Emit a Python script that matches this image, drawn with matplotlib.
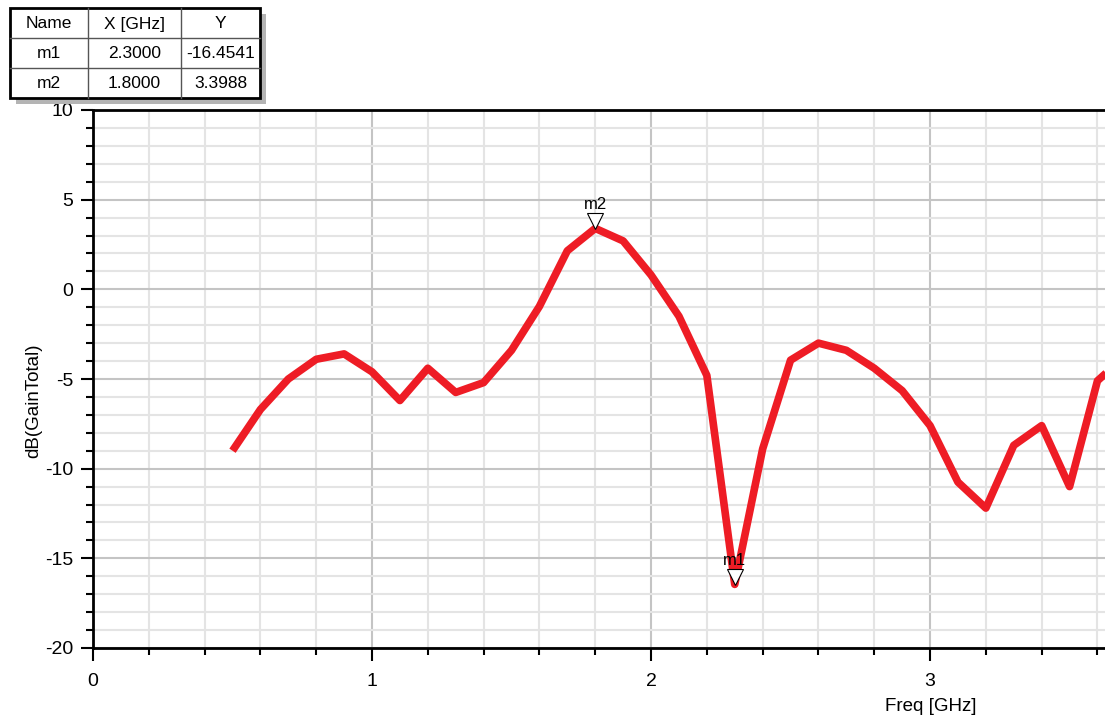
import matplotlib
matplotlib.use("Agg")
import matplotlib.pyplot as plt
from matplotlib.patches import Rectangle
from matplotlib.ticker import MultipleLocator
from matplotlib.transforms import offset_copy

plt.rcParams["font.family"] = ["Liberation Sans", "DejaVu Sans"]
plt.rcParams["axes.unicode_minus"] = False

freq_ghz = [0.5, 0.6, 0.7, 0.8, 0.9, 1.0, 1.1, 1.2, 1.3, 1.4, 1.5, 1.6, 1.7, 1.8,
            1.9, 2.0, 2.1, 2.2, 2.3, 2.4, 2.5, 2.6, 2.7, 2.8, 2.9, 3.0, 3.1, 3.2,
            3.3, 3.4, 3.5, 3.6, 3.7]
gain_db = [-9.0, -6.7, -5.0, -3.9, -3.6, -4.6, -6.2, -4.4, -5.75, -5.2, -3.4, -0.95,
           2.15, 3.3988, 2.7, 0.8, -1.5, -4.8, -16.4541, -8.9, -3.95, -3.0, -3.4,
           -4.4, -5.65, -7.6, -10.75, -12.2, -8.7, -7.6, -11.0, -5.1, -3.7]

marker_names = ["m1", "m2"]
marker_x = [2.3, 1.8]
marker_y = [-16.4541, 3.3988]

fig = plt.figure(figsize=(11.05, 7.17), dpi=100)
ax = fig.add_axes([93 / 1105, 69 / 717, 1012 / 1105, 538 / 717])

ax.plot(freq_ghz, gain_db, color="#ee1c25", lw=5.5, solid_joinstyle="round",
        solid_capstyle="butt", zorder=3)

# markers: hollow down-triangles sitting on the trace, with name above
tri = offset_copy(ax.transData, fig=fig, x=0, y=7, units="dots")
lab = offset_copy(ax.transData, fig=fig, x=0, y=16, units="dots")
for name, mx, my in zip(marker_names, marker_x, marker_y):
    ax.plot([mx], [my], marker="v", ms=11, mfc="white", mec="black", mew=0.8,
            transform=tri, zorder=4, clip_on=False)
    ax.text(mx, my, name, transform=lab, ha="center", va="bottom", fontsize=12, zorder=5)

ax.set_xlim(0, 3.627)
ax.set_ylim(-20, 10)
ax.xaxis.set_major_locator(MultipleLocator(1))
ax.xaxis.set_minor_locator(MultipleLocator(0.2))
ax.yaxis.set_major_locator(MultipleLocator(5))
ax.yaxis.set_minor_locator(MultipleLocator(1))
ax.grid(which="minor", color="#e4e4e4", lw=1.5, zorder=0)
ax.grid(which="major", color="#c4c4c4", lw=1.5, zorder=1)
ax.tick_params(which="major", direction="out", length=9, width=1.5, labelsize=14, pad=5)
ax.tick_params(which="minor", direction="out", length=5, width=1.5)
ax.tick_params(axis="x", which="major", pad=9)

for side in ["left", "bottom", "top"]:
    ax.spines[side].set_linewidth(2)
    ax.spines[side].set_color("black")
ax.spines["right"].set_visible(False)

ax.set_xlabel("Freq [GHz]", fontsize=13.5)
ax.xaxis.set_label_coords(0.828, -0.093)
ax.set_ylabel("dB(GainTotal)", fontsize=13.5)
ax.yaxis.set_label_coords(-0.05, 0.46)

# marker readout table in pixel coordinates
tab = fig.add_axes([0, 0, 1, 1], zorder=10)
tab.set_xlim(0, 1105)
tab.set_ylim(717, 0)
tab.axis("off")
col_x = [10, 88, 181, 260]
row_y = [8, 38, 68, 98]
tab.add_patch(Rectangle((16, 14), 250, 90, facecolor="#b4b4b4", edgecolor="none"))
tab.add_patch(Rectangle((10, 8), 250, 90, facecolor="white", edgecolor="black", lw=2))
for cx in col_x[1:-1]:
    tab.plot([cx, cx], [row_y[0], row_y[-1]], color="#555555", lw=1)
for ry in row_y[1:-1]:
    tab.plot([col_x[0], col_x[-1]], [ry, ry], color="#555555", lw=1)
rows = [["Name", "X [GHz]", "Y"]]
for name, mx, my in zip(marker_names, marker_x, marker_y):
    rows.append([name, f"{mx:.4f}", f"{my:.4f}"])
for r, row in enumerate(rows):
    for c, txt in enumerate(row):
        tab.text((col_x[c] + col_x[c + 1]) / 2, (row_y[r] + row_y[r + 1]) / 2 + 1, txt,
                 ha="center", va="center", fontsize=12.5)

fig.savefig("out.png", dpi=100)
plt.close(fig)
